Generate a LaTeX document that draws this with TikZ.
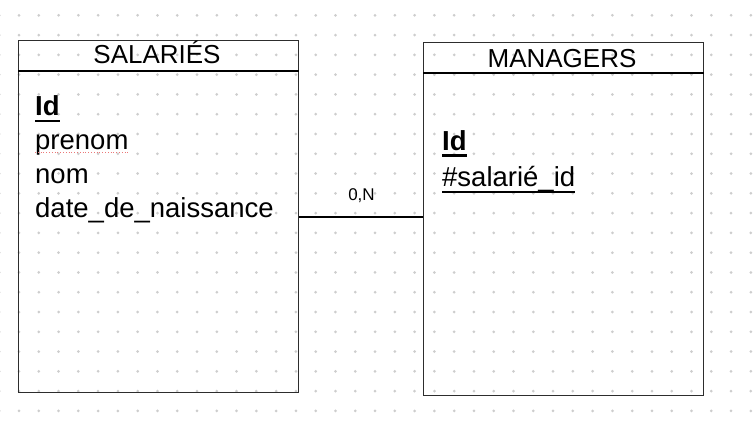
\documentclass[tikz,border=0pt]{standalone}
\usepackage{fontspec}
\setmainfont{Liberation Sans}
\definecolor{dotgray}{RGB}{205,205,205}
\definecolor{boxgray}{RGB}{45,45,45}
\definecolor{spellred}{RGB}{235,120,120}
\begin{document}
\begin{tikzpicture}[x=1pt,y=-1pt]
    \tikzset{
        entity/.style={draw=boxgray, line width=1pt, rectangle, inner sep=0pt, anchor=north west, minimum width=280pt},
        title/.style={inner sep=0pt, anchor=base, font=\fontsize{26}{30}\selectfont},
        attr/.style={inner sep=0pt, anchor=base west, font=\fontsize{27.5}{30}\selectfont},
        keyattr/.style={attr, font=\fontsize{27.5}{30}\selectfont\bfseries},
        card/.style={inner sep=0pt, anchor=base, font=\fontsize{17}{18}\selectfont},
        sepline/.style={line width=2pt},
    }
    \useasboundingbox (0,0) rectangle (756,428);
    \clip (0,0) rectangle (756,428);
    % dotted background
    \foreach \i in {-1,...,37}
        \foreach \j in {0,...,20}
            \fill[dotgray] (19+19.78*\i, 15.3+19.78*\j) circle (1.5);
    % entities
    \node[entity, minimum height=352pt] (sal) at (18,40) {};
    \node[entity, minimum height=353pt] (man) at (423,42) {};
    \draw[sepline] ([yshift=-31pt]sal.north west) -- ([yshift=-31pt]sal.north east);
    \draw[sepline] ([yshift=-31pt]man.north west) -- ([yshift=-31pt]man.north east);
    \node[title] (saltitle) at (157,63.5) {SALARIÉS};
    \node[title] (mantitle) at (562,67.5) {MANAGERS};
    % SALARIES attributes
    \node[keyattr] (salid) at (35,116) {Id};
    \node[attr] (prenom) at (35,149.7) {prenom};
    \node[attr] (nom) at (35,183.4) {nom};
    \node[attr] (naissance) at (35,217.1) {date\_de\_naissance};
    \draw[line width=2.5pt] ([yshift=-5pt]salid.base west) -- ([yshift=-5pt]salid.base east);
    \draw[spellred, dotted, line width=0.8pt] ([yshift=-3pt]prenom.base west) -- ([yshift=-3pt]prenom.base east);
    % MANAGERS attributes
    \node[keyattr] (manid) at (442,150.5) {Id};
    \node[attr] (salarieid) at (442,186.7) {\#salarié\_id};
    \draw[line width=2.5pt] ([yshift=-5pt]manid.base west) -- ([yshift=-5pt]manid.base east);
    \draw[line width=1.8pt] ([yshift=-5pt]salarieid.base west) -- ([yshift=-5pt]salarieid.base east);
    % association
    \draw[sepline] (sal.east) -- (sal.east -| man.west);
    \node[card] (cardn) at (361.5,200) {0,N};
\end{tikzpicture}
\end{document}
